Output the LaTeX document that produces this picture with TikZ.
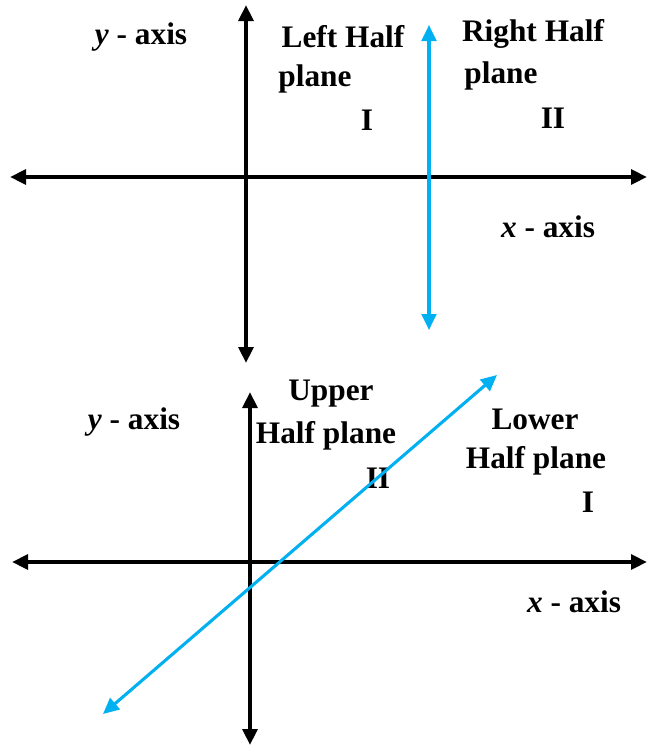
\documentclass[tikz,border=0pt]{standalone}
\usepackage{fontspec}
\setmainfont{Liberation Serif}
\usetikzlibrary{arrows.meta}
\definecolor{skyblue}{RGB}{0,176,240}
\begin{document}
\begin{tikzpicture}[x=0.75pt,y=-0.75pt,
  axisline/.style={line width=3pt,{Triangle[length=12pt,width=11pt]}-{Triangle[length=12pt,width=11pt]}},
  blueline/.style={line width=2.3pt,color=skyblue,{Triangle[length=12pt,width=11pt]}-{Triangle[length=12pt,width=11pt]}},
  lbl/.style={font=\fontsize{23.5}{28}\selectfont\bfseries,inner sep=0pt,anchor=center,yshift=-1.5pt}]
\useasboundingbox (0,0) rectangle (647,747);
% top diagram
\coordinate (tx1) at (10,177);
\coordinate (tx2) at (647,177);
\coordinate (ty1) at (246,5);
\coordinate (ty2) at (246,363);
\coordinate (tb1) at (429,25);
\coordinate (tb2) at (429,330);
\draw[axisline] (tx1) -- (tx2);
\draw[axisline] (ty1) -- (ty2);
\draw[blueline] (tb1) -- (tb2);
\node[lbl] (tya) at (141,35) {\textit{y} - axis};
\node[lbl] (tl1) at (343,35) {Left Half};
\node[lbl] (tl2) at (315,77) {plane};
\node[lbl] (tl3) at (367,118) {I};
\node[lbl] (tr1) at (533,32) {Right Half};
\node[lbl] (tr2) at (501,74) {plane};
\node[lbl] (tr3) at (553,116) {II};
\node[lbl] (txa) at (548,225) {\textit{x} - axis};
% bottom diagram
\coordinate (bx1) at (12,562);
\coordinate (bx2) at (647,562);
\coordinate (by1) at (250,392);
\coordinate (by2) at (250,745);
\node[lbl] (bya) at (134,420) {\textit{y} - axis};
\node[lbl] (bu1) at (331,392) {Upper};
\node[lbl] (bu2) at (326,434) {Half plane};
\node[lbl] (bu3) at (378,476) {II};
\node[lbl] (bl1) at (535,417) {Lower};
\node[lbl] (bl2) at (536,459) {Half plane};
\node[lbl] (bl3) at (588,500) {I};
\node[lbl] (bxa) at (574,600) {\textit{x} - axis};
\coordinate (bb1) at (103,714);
\coordinate (bb2) at (497,375);
\draw[axisline] (bx1) -- (bx2);
\draw[axisline] (by1) -- (by2);
\draw[blueline] (bb1) -- (bb2);
\end{tikzpicture}
\end{document}
